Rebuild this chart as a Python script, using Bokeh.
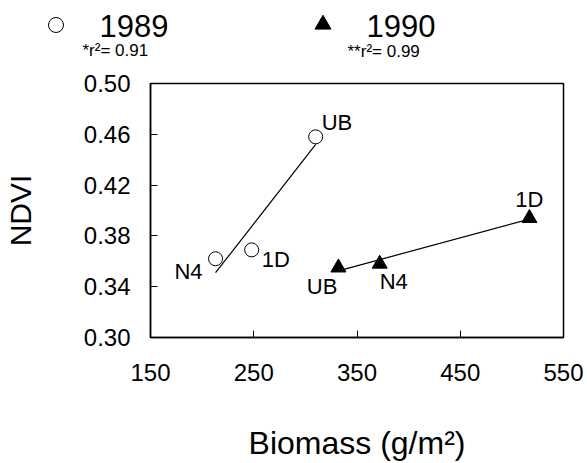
from bokeh.plotting import figure
from bokeh.models import ColumnDataSource, Range1d, FixedTicker, NumeralTickFormatter
from bokeh.layouts import column
from bokeh.embed import file_html
from bokeh.resources import INLINE
from bokeh.core.properties import value

FONT = "Liberation Sans"

# ---- data ----
years = ["1989", "1990"]
r2_labels = ["*r²= 0.91", "**r²= 0.99"]

sites_89 = ["UB", "N4", "1D"]
biomass_89 = [310, 213, 248]
ndvi_89 = [0.458, 0.362, 0.369]

sites_90 = ["UB", "N4", "1D"]
biomass_90 = [332, 372, 517]
ndvi_90 = [0.355, 0.358, 0.394]

fit_89_x = [213, 310]
fit_89_y = [0.351, 0.452]
fit_90_x = [332, 517]
fit_90_y = [0.3525, 0.3932]

x_ticks = [150, 250, 350, 450, 550]
y_ticks = [0.30, 0.34, 0.38, 0.42, 0.46, 0.50]

# ---- label placement (screen offsets from each point) ----
lab89_dx = [6, -13, 10]
lab89_dy = [-14, 13, 9.5]
lab89_align = ["left", "right", "left"]
lab90_dx = [-1, 0, 0]
lab90_dy = [18.5, 17.5, -19]
lab90_align = ["right", "left", "center"]

W = 587
H_LEG = 63
H_MAIN = 400

# ---- legend strip (screen-like coordinates) ----
leg = figure(width=W, height=H_LEG, x_range=Range1d(0, W), y_range=Range1d(H_LEG, 0),
             output_backend="svg", toolbar_location=None,
             min_border=0, min_border_left=0, min_border_right=0,
             min_border_top=0, min_border_bottom=0)
leg.frame_align = False
leg.axis.visible = False
leg.grid.visible = False
leg.outline_line_color = None

leg.scatter(x=[55.5], y=[24.5], marker="circle", size=15, fill_color=None,
            line_color="black", line_width=1)
leg.scatter(x=[322.5], y=[24], marker="triangle", size=16, fill_color="black",
            line_color="black")
leg.text(x=[99, 366], y=[25, 25], text=years, text_font=value(FONT),
         text_font_size="31px", text_color="black", text_baseline="middle",
         text_align="left")
leg.text(x=[82, 347], y=[50, 51], text=r2_labels, text_font=value(FONT),
         text_font_size="17px", text_color="black", text_baseline="middle",
         text_align="left")

# ---- main plot ----
p = figure(width=W, height=H_MAIN, x_range=Range1d(150, 550), y_range=Range1d(0.30, 0.50),
           output_backend="svg", toolbar_location=None,
           min_border_left=150, min_border_right=24, min_border_top=20, min_border_bottom=124)
p.frame_align = False
p.grid.visible = False
p.outline_line_color = "black"
p.outline_line_width = 1.5

for ax in (p.xaxis[0], p.yaxis[0]):
    ax.axis_line_color = "black"
    ax.axis_line_width = 1.5
    ax.major_tick_in = 7
    ax.major_tick_out = 0
    ax.minor_tick_line_color = None
    ax.major_tick_line_color = "black"
    ax.major_label_text_font = FONT
    ax.major_label_text_font_size = "24px"
    ax.major_label_text_color = "black"
    ax.axis_label_text_font = FONT
    ax.axis_label_text_font_style = "normal"
    ax.axis_label_text_color = "black"

p.xaxis.ticker = FixedTicker(ticks=x_ticks)
p.yaxis.ticker = FixedTicker(ticks=y_ticks)
p.xaxis.formatter = NumeralTickFormatter(format="0")
p.yaxis.formatter = NumeralTickFormatter(format="0.00")
p.xaxis.major_label_standoff = 26
p.yaxis.major_label_standoff = 20
p.xaxis.axis_label = "Biomass (g/m²)"
p.yaxis.axis_label = "NDVI"
p.xaxis.axis_label_text_font_size = "32px"
p.yaxis.axis_label_text_font_size = "30px"
p.xaxis.axis_label_standoff = 41
p.yaxis.axis_label_standoff = 44

src89 = ColumnDataSource(dict(x=biomass_89, y=ndvi_89, t=sites_89,
                              dx=lab89_dx, dy=lab89_dy, al=lab89_align))
src90 = ColumnDataSource(dict(x=biomass_90, y=ndvi_90, t=sites_90,
                              dx=lab90_dx, dy=lab90_dy, al=lab90_align))

p.line(fit_89_x, fit_89_y, line_color="black", line_width=1.2)
p.line(fit_90_x, fit_90_y, line_color="black", line_width=1.2)

p.scatter("x", "y", source=src89, marker="circle", size=14, fill_color="white",
          fill_alpha=0.0, line_color="black", line_width=1)
p.scatter("x", "y", source=src90, marker="triangle", size=15, fill_color="black",
          line_color="black")

for s in (src89, src90):
    p.text("x", "y", text="t", source=s, x_offset="dx", y_offset="dy",
           text_align="al", text_baseline="middle", text_font=value(FONT),
           text_font_size="22px", text_color="black")

layout = column(leg, p)
open("out.html", "w").write(file_html(layout, INLINE))
